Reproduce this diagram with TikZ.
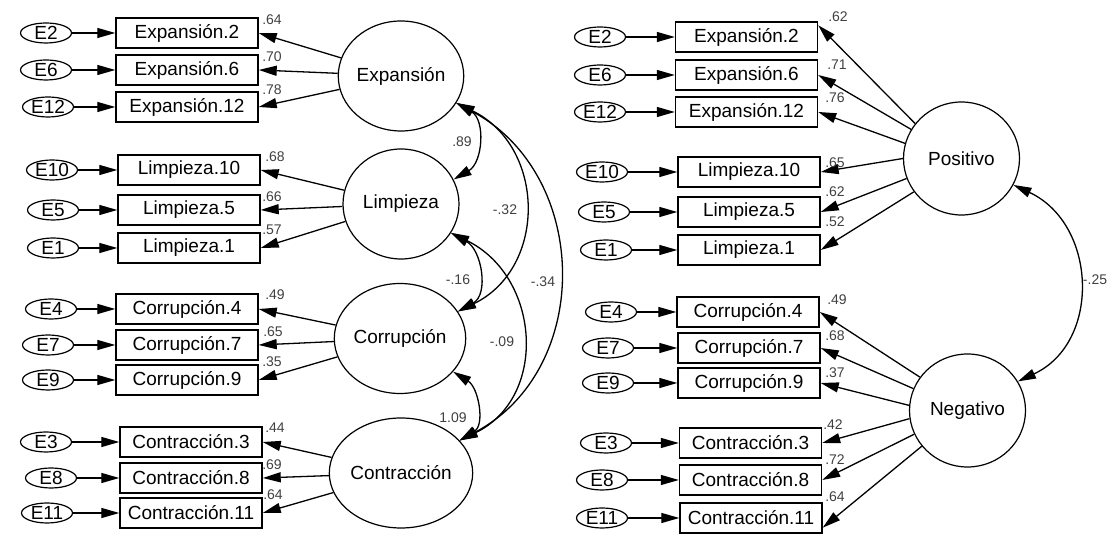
\documentclass[tikz,border=0pt]{standalone}
\usepackage{fontspec}
\setmainfont{Liberation Sans}
\usetikzlibrary{shapes.geometric,arrows.meta}
\tikzset{amos/.tip={Triangle[length=18pt,width=10pt]}}
\begin{document}
\begin{tikzpicture}[x=1pt,y=1pt,
  obs/.style={draw,line width=1.4pt,minimum width=142pt,minimum height=30pt,inner sep=0pt,font=\fontsize{19}{21}\selectfont},
  err/.style={draw,ellipse,line width=1.2pt,minimum width=51pt,minimum height=20pt,inner sep=0pt,font=\fontsize{19}{21}\selectfont},
  lat/.style={draw,ellipse,line width=1.2pt,minimum width=116pt,minimum height=110pt,inner sep=0pt,font=\fontsize{19}{21}\selectfont},
  num/.style={font=\fontsize{14}{16}\selectfont,text=black!75,inner sep=0pt},
  ld/.style={-amos,line width=1.3pt},
  cv/.style={amos-amos,line width=1.3pt}]
\useasboundingbox (0,0) rectangle (1114,540);

% ---------------- left panel ----------------
\node[lat] (exp) at (401,464) {Expansión};
\node[lat] (lim) at (401,336) {Limpieza};
\node[lat] (cor) at (400,201.5) {Corrupción};
\node[lat] (con) at (401,67) {Contracción};

\node[obs] (Lb2) at (187,507) {Expansión.2};
\node[obs] (Lb6) at (187,470) {Expansión.6};
\node[obs] (Lb12) at (187,433) {Expansión.12};
\node[obs] (Lb10) at (189,370) {Limpieza.10};
\node[obs] (Lb5) at (189,330) {Limpieza.5};
\node[obs] (Lb1) at (189,292) {Limpieza.1};
\node[obs] (Lb4) at (187,231) {Corrupción.4};
\node[obs] (Lb7) at (187,195) {Corrupción.7};
\node[obs] (Lb9) at (187,160) {Corrupción.9};
\node[obs] (Lb3) at (191,98) {Contracción.3};
\node[obs] (Lb8) at (191,62) {Contracción.8};
\node[obs] (Lb11) at (191,27) {Contracción.11};

\node[err] (Le2) at (46,507) {E2};
\node[err] (Le6) at (46,470) {E6};
\node[err] (Le12) at (48,433) {E12};
\node[err] (Le10) at (52,370) {E10};
\node[err] (Le5) at (53,330) {E5};
\node[err] (Le1) at (53,292) {E1};
\node[err] (Le4) at (51,231) {E4};
\node[err] (Le7) at (48,195) {E7};
\node[err] (Le9) at (48,160) {E9};
\node[err] (Le3) at (46,98) {E3};
\node[err] (Le8) at (51,62) {E8};
\node[err] (Le11) at (47,27) {E11};

\foreach \i in {2,6,12,10,5,1,4,7,9,3,8,11} {\draw[ld] (Le\i) -- (Lb\i);}
\foreach \i in {2,6,12} {\draw[ld] (exp) -- (Lb\i.east);}
\foreach \i in {10,5,1} {\draw[ld] (lim) -- (Lb\i.east);}
\foreach \i in {4,7,9} {\draw[ld] (cor) -- (Lb\i.east);}
\foreach \i in {3,8,11} {\draw[ld] (con) -- (Lb\i.east);}

\node[num] at (272,520) {.64};
\node[num] at (272,483) {.70};
\node[num] at (272,450) {.78};
\node[num] at (275,383) {.68};
\node[num] at (272,343) {.66};
\node[num] at (272,310) {.57};
\node[num] at (275,245) {.49};
\node[num] at (273,208) {.65};
\node[num] at (272,178) {.35};
\node[num] at (275,112) {.44};
\node[num] at (272,75) {.69};
\node[num] at (273,45) {.64};

\draw[cv] (exp.-26) to[out=-30,in=30,looseness=1.13] (lim.25);
\draw[cv] (exp.-26) to[out=-26,in=26,looseness=1.22] (cor.25);
\draw[cv] (exp.-26) to[out=-28,in=28,looseness=1.15] (con.29);
\draw[cv] (lim.-30) to[out=-29,in=29,looseness=1.15] (cor.25);
\draw[cv] (lim.-30) to[out=-26,in=26,looseness=1.22] (con.29);
\draw[cv] (cor.-32) to[out=-32,in=32,looseness=1.11] (con.29);

\node[num] at (462,398) {.89};
\node[num] at (505,330) {-.32};
\node[num] at (543,258) {-.34};
\node[num] at (458,260) {-.16};
\node[num] at (502,198) {-.09};
\node[num] at (453,122) {1.09};

% ---------------- right panel ----------------
\node[lat,minimum height=113pt] (pos) at (961.5,381.5) {Positivo};
\node[lat,minimum height=113pt] (neg) at (967.5,129.5) {Negativo};

\node[obs] (Rb2) at (746.5,503) {Expansión.2};
\node[obs] (Rb6) at (746.5,465) {Expansión.6};
\node[obs] (Rb12) at (746.5,428) {Expansión.12};
\node[obs] (Rb10) at (749,368) {Limpieza.10};
\node[obs] (Rb5) at (749,328) {Limpieza.5};
\node[obs] (Rb1) at (749,290) {Limpieza.1};
\node[obs] (Rb4) at (748,228) {Corrupción.4};
\node[obs] (Rb7) at (749,192) {Corrupción.7};
\node[obs] (Rb9) at (749,157) {Corrupción.9};
\node[obs] (Rb3) at (750.5,97) {Contracción.3};
\node[obs] (Rb8) at (750.5,60) {Contracción.8};
\node[obs] (Rb11) at (751,22) {Contracción.11};

\node[err] (Re2) at (600,503) {E2};
\node[err] (Re6) at (600,465) {E6};
\node[err] (Re12) at (600,428) {E12};
\node[err] (Re10) at (602,368) {E10};
\node[err] (Re5) at (604,328) {E5};
\node[err] (Re1) at (606,290) {E1};
\node[err] (Re4) at (611,228) {E4};
\node[err] (Re7) at (608,192) {E7};
\node[err] (Re9) at (608,157) {E9};
\node[err] (Re3) at (606,97) {E3};
\node[err] (Re8) at (602,60) {E8};
\node[err] (Re11) at (602,22) {E11};

\foreach \i in {2,6,12,10,5,1,4,7,9,3,8,11} {\draw[ld] (Re\i) -- (Rb\i);}

\draw[ld] (pos.143) -- ([yshift=-4pt]Rb2.north east);
\draw[ld] (pos.150) -- (Rb6.east);
\draw[ld] (pos.165) -- (Rb12.east);
\draw[ld] (pos.180) -- (Rb10.east);
\draw[ld] (pos.200) -- (Rb5.east);
\draw[ld] (pos.215) -- (Rb1.east);
\draw[ld] (neg.145) -- (Rb4.east);
\draw[ld] (neg.158) -- (Rb7.east);
\draw[ld] (neg.175) -- (Rb9.east);
\draw[ld] (neg.188) -- (Rb3.east);
\draw[ld] (neg.204) -- (Rb8.east);
\draw[ld] (neg.218) -- ([yshift=6pt]Rb11.south east);

\node[num] at (838,523) {.62};
\node[num] at (837,475) {.71};
\node[num] at (835,442) {.76};
\node[num] at (835,377) {.65};
\node[num] at (835,348) {.62};
\node[num] at (835,318) {.52};
\node[num] at (837,240) {.49};
\node[num] at (835,204) {.68};
\node[num] at (835,167) {.37};
\node[num] at (833,115) {.42};
\node[num] at (835,80) {.72};
\node[num] at (835,43) {.64};

\draw[cv] (pos.-27) to[out=-25,in=25,looseness=1.2] (neg.30);
\node[num] at (1095,260) {-.25};
\end{tikzpicture}
\end{document}
